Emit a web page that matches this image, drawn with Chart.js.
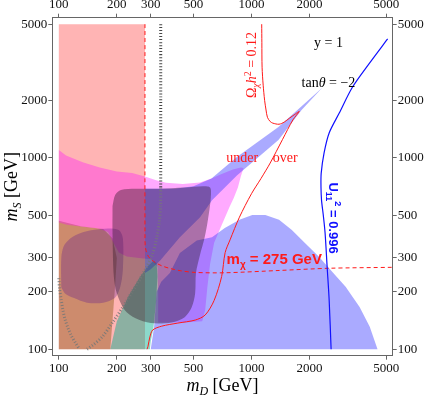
<!DOCTYPE html>
<html><head><meta charset="utf-8">
<script src="https://cdn.jsdelivr.net/npm/chart.js@4.4.1/dist/chart.umd.min.js"></script>
<style>html,body{margin:0;padding:0;background:#fff;}#wrap{width:424px;height:397px;}</style>
</head><body><div id="wrap"><canvas id="c" width="424" height="397"></canvas></div>
<script>
// ---- axis values ----
const xTicks = [100, 200, 300, 500, 1000, 2000, 5000];
const yTicks = [100, 200, 300, 500, 1000, 2000, 5000];
const axisMin = 92.5, axisMax = 5407;

// ---- region boundaries (m_D, m_S) in GeV ----
const regionSalmon = [[100,100],[100,5000],[280,5000],[280,100],[100,100]];
const regionOrange = [[100,100],[100,470],[130,440],[170,425],[190,380],[200,300],[195,200],[185,100],[100,100]];
const regionMagenta = [[100,1100],[109,1030],[133,950],[163,890],[200,850],[240,835],[280,800],[320,765],[360,742],[440,730],[540,745],[620,780],[700,825],[800,870],[880,890],[910,885],[880,800],[850,700],[810,620],[770,555],[690,430],[640,360],[610,280],[590,210],[575,160],[555,140],[450,138],[330,138],[328,200],[325,270],[300,295],[260,300],[225,305],[205,320],[192,360],[180,410],[160,428],[130,438],[110,448],[100,460],[100,1100]];
const regionMauve = [[103,210],[103,300],[106,345],[115,380],[130,405],[150,420],[180,428],[205,420],[215,380],[215,260],[208,210],[195,185],[170,175],[140,175],[120,185],[108,195],[103,210]];
const regionGreen = [[185,100],[200,140],[230,190],[263,238],[290,272],[310,290],[322,282],[325,240],[320,180],[310,130],[300,110],[297,100],[185,100]];
const regionBlueLow = [[300,100],[312,130],[322,200],[340,225],[377,250],[425,318],[520,370],[624,385],[727,430],[866,475],[1010,503],[1180,503],[1390,475],[1620,420],[1900,358],[2240,304],[2630,253],[3080,212],[3640,166],[4110,131],[4510,100],[300,100]];
const regionBlueWedge = [[280,250],[300,262],[335,290],[425,385],[541,490],[624,600],[840,810],[1380,1240],[1820,1780],[2330,2330],[1380,1450],[840,1010],[620,780],[500,710],[400,690],[280,690],[280,250]];
const regionDark = [[190,560],[196,640],[210,680],[250,690],[330,690],[450,700],[560,712],[610,700],[615,620],[595,480],[570,380],[540,310],[515,250],[510,196],[490,166],[450,147],[385,138],[300,137],[250,145],[220,160],[200,196],[193,240],[190,400],[190,560]];

// ---- curves ----
const dottedUpper = [[338,5000],[338,2000],[338,1000],[338,700]];
const dottedLower = [[338,700],[337,560],[333,470],[322,380],[305,310],[280,260],[263,232],[240,200],[215,166],[190,138],[168,116],[150,105],[140,100]];
const dottedLeft = [[100,235],[101,205],[103,181],[105,160],[108,142],[112,128],[116,118],[122,108],[128,100]];
const mChiLine = [[280,5000],[280,400],[281,345],[285,322],[292,305],[303,293],[320,282],[345,272],[380,264],[430,257],[510,252],[730,251],[1390,258],[2540,265],[5400,268]];
const relicLine = [[1130,5000],[1132,4000],[1135,2980],[1150,2400],[1170,2000],[1190,1780],[1210,1630],[1250,1550],[1290,1520],[1390,1500],[1480,1540],[1570,1610],[1680,1690],[1770,1750],[1640,1580],[1450,1250],[1250,940],[1120,780],[1000,650],[866,490],[774,373],[730,320],[700,240],[640,180],[575,151],[510,142],[415,137],[342,132],[307,126],[297,116],[290,103],[287,100]];
const u11Line = [[5090,4190],[4090,3120],[3340,2340],[2850,1710],[2530,1350],[2380,1060],[2300,830],[2295,700],[2310,600],[2360,500],[2410,405],[2470,269],[2530,181],[2590,100]];

// ---- labels (position in m_D, m_S) ----
const labelY1 = {x:2510, y:4040};
const labelTan = {x:2510, y:2495};
const labelRelic = {x:996, y:3060};
const labelUnder = {x:894, y:1011};
const labelOver = {x:1498, y:1011};
const labelMChi = {x:1313, y:295};
const labelU11 = {x:2690, y:485};

const toXY = a => a.map(p => ({x:p[0], y:p[1]}));

const regions = [
  [regionSalmon, 'rgba(255,105,105,0.5)', 0],
  [regionOrange, 'rgba(130,80,5,0.4)', 0],
  [regionMagenta, 'rgba(255,12,255,0.35)', 0],
  [regionMauve, 'rgba(88,17,143,0.3)', 0.3],
  [regionGreen, 'rgba(0,170,140,0.45)', 0],
  [regionBlueLow, 'rgba(66,66,255,0.45)', 0],
  [regionBlueWedge, 'rgba(66,66,255,0.45)', 0],
  [regionDark, 'rgba(45,25,40,0.4)', 0.3]
];
const curves = [
  [dottedLeft, 'rgba(120,120,120,0.9)', 3, [1,2]],
  [dottedLower, 'rgba(120,120,120,0.9)', 3, [1,2]],
  [dottedUpper, 'rgba(50,50,50,0.9)', 3, [1,2]],
  [mChiLine, '#ff1a1a', 1, [4,3]],
  [relicLine, '#ff1a1a', 1, []],
  [u11Line, '#1010ff', 1.2, []]
];

const layerList = [];
regions.forEach(r => layerList.push({
  data: toXY(r[0]), showLine: true, fill: 'shape', backgroundColor: r[1],
  borderWidth: 0, borderColor: 'rgba(0,0,0,0)', pointRadius: 0, tension: r[2]
}));
curves.forEach(c => layerList.push({
  data: toXY(c[0]), showLine: true, fill: false, borderColor: c[1], borderWidth: c[2],
  borderDash: c[3], pointRadius: 0, tension: 0.3
}));
const N = layerList.length;
layerList.forEach((d, i) => { d.order = N - i; });

function drawRuns(ctx, runs, cx, cy, rot, color) {
  ctx.save();
  ctx.translate(cx, cy);
  ctx.rotate(rot);
  ctx.fillStyle = color;
  ctx.textBaseline = 'alphabetic';
  let w = 0;
  runs.forEach(r => { ctx.font = r.f; r.w = ctx.measureText(r.t).width; w += r.w; });
  let x = -w / 2;
  const base = 5;
  runs.forEach(r => { ctx.font = r.f; ctx.fillText(r.t, x, base + (r.dy || 0)); x += r.w; });
  ctx.restore();
}

const textPlugin = {
  id: 'texts',
  afterDraw(chart) {
    const ctx = chart.ctx, sx = chart.scales.x, sy = chart.scales.y;
    const P = o => [sx.getPixelForValue(o.x), sy.getPixelForValue(o.y)];
    const S = 'Liberation Serif', A = 'Liberation Sans';
    let p;
    p = P(labelY1);
    drawRuns(ctx, [{t:'y = 1', f:`14px "${S}"`}], p[0], p[1], 0, '#000');
    p = P(labelTan);
    drawRuns(ctx, [{t:'tan', f:`14px "${S}"`}, {t:'θ', f:`italic 14px "${S}"`}, {t:' = −2', f:`14px "${S}"`}], p[0], p[1], 0, '#000');
    p = P(labelRelic);
    drawRuns(ctx, [{t:'Ω', f:`14px "${S}"`}, {t:'χ', f:`italic 10px "${S}"`, dy:3}, {t:'h', f:`italic 14px "${S}"`}, {t:'2', f:`10px "${S}"`, dy:-5}, {t:' = 0.12', f:`14px "${S}"`}], p[0], p[1], -Math.PI/2, '#ff1a1a');
    p = P(labelUnder);
    drawRuns(ctx, [{t:'under', f:`14px "${S}"`}], p[0], p[1], 0, '#ff1a1a');
    p = P(labelOver);
    drawRuns(ctx, [{t:'over', f:`14px "${S}"`}], p[0], p[1], 0, '#ff1a1a');
    p = P(labelMChi);
    drawRuns(ctx, [{t:'m', f:`bold 15px "${A}"`}, {t:'χ', f:`bold 10px "${A}"`, dy:4}, {t:' = 275 GeV', f:`bold 15px "${A}"`}], p[0], p[1], 0, '#ff1a1a');
    p = P(labelU11);
    drawRuns(ctx, [{t:'U', f:`bold 13px "${A}"`}, {t:'11', f:`bold 9px "${A}"`, dy:3}, {t:'2', f:`bold 9px "${A}"`, dy:-6}, {t:' = 0.996', f:`bold 13px "${A}"`}], p[0], p[1], Math.PI/2, '#1010ff');
    const ca = chart.chartArea;
    drawRuns(ctx, [{t:'m', f:`italic 18px "${S}"`}, {t:'D', f:`italic 12px "${S}"`, dy:4}, {t:' [GeV]', f:`18px "${S}"`}], (ca.left + ca.right) / 2, 386, 0, '#000');
    drawRuns(ctx, [{t:'m', f:`italic 18px "${S}"`}, {t:'S', f:`italic 12px "${S}"`, dy:4}, {t:' [GeV]', f:`18px "${S}"`}], 12, (ca.top + ca.bottom) / 2, -Math.PI/2, '#000');
  }
};

function axisOpts(position, axis, ticksArr, size) {
  return {
    type: 'logarithmic', position: position, axis: axis,
    min: axisMin, max: axisMax,
    afterBuildTicks: s => { s.ticks = ticksArr.map(v => ({value: v})); },
    afterFit: s => { if (axis === 'x') s.height = size; else s.width = size; },
    ticks: {
      callback: v => String(v), autoSkip: false, maxRotation: 0, minRotation: 0,
      font: {family: 'Liberation Serif', size: 13}, color: '#111', padding: 1
    },
    grid: {display: true, drawOnChartArea: false, drawTicks: true, tickLength: 4, color: '#666', lineWidth: 1},
    border: {display: true, color: '#666', width: 1},
    title: {display: false}
  };
}

new Chart(document.getElementById('c'), {
  type: 'scatter',
  data: {datasets: layerList},
  options: {
    responsive: false, animation: false, devicePixelRatio: 1,
    layout: {padding: 0},
    plugins: {legend: {display: false}, tooltip: {enabled: false}},
    scales: {
      x: axisOpts('bottom', 'x', xTicks, 41.3),
      x2: axisOpts('top', 'x', xTicks, 17.7),
      y: axisOpts('left', 'y', yTicks, 52.3),
      y2: axisOpts('right', 'y', yTicks, 31.3)
    }
  },
  plugins: [textPlugin]
});
</script>
</body></html>
